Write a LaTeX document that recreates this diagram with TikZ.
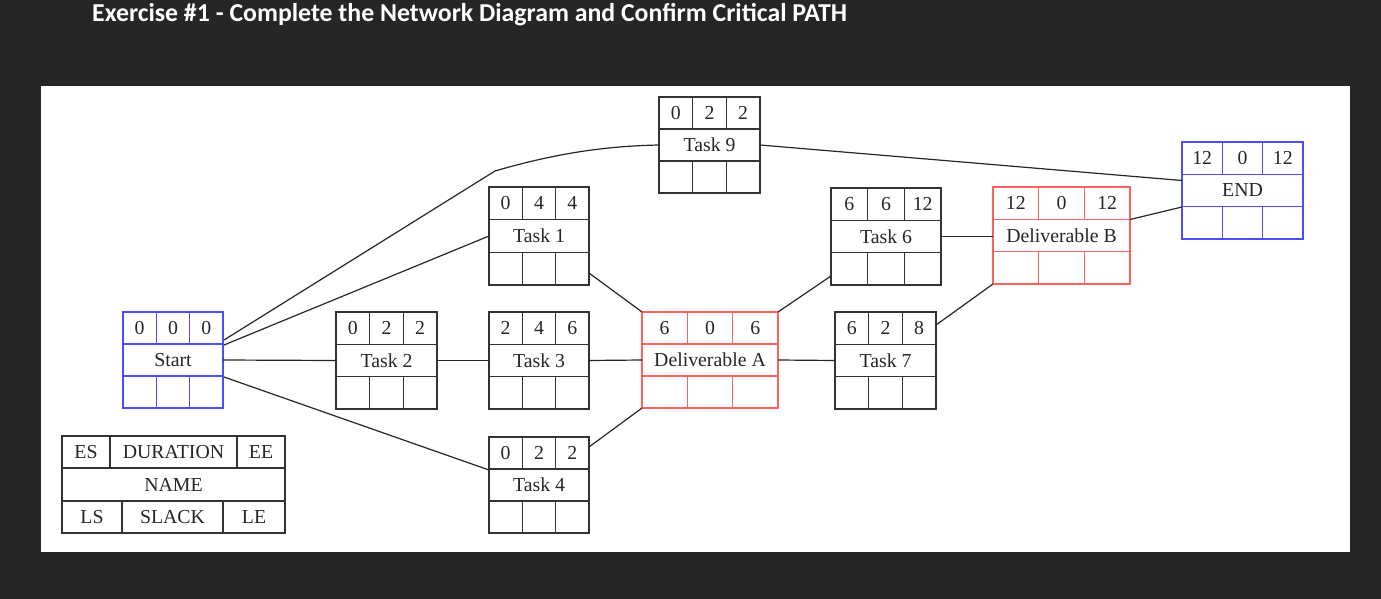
\documentclass[tikz,border=0pt]{standalone}
\usepackage{fontspec}
\setmainfont{Liberation Serif}
\newfontfamily\titlefont{Carlito}
\usetikzlibrary{calc}
\definecolor{bg}{HTML}{262626}
\definecolor{ink}{HTML}{262626}
\definecolor{bluebox}{HTML}{4D4DFF}
\definecolor{redbox}{HTML}{FF6060}
\definecolor{greybox}{HTML}{333333}
\tikzset{
  boxline/.style={line width=1.5pt},
  txt/.style={font=\fontsize{19.8}{21}\selectfont, text=ink, inner sep=0pt},
  conn/.style={draw=ink, line width=1.2pt},
}
\newcommand\geom[4]{\def\gxa{#1}\def\gya{#2}\def\gxb{#3}\def\gyb{#4}}
% #1 name, #2 colour, #3 es, #4 duration, #5 ee, #6 label
\newcommand\tbox[6]{%
  \pgfmathsetmacro\ca{\gxa+(\gxb-\gxa)/3}%
  \pgfmathsetmacro\cb{\gxa+2*(\gxb-\gxa)/3}%
  \pgfmathsetmacro\ra{\gya+(\gyb-\gya)/3}%
  \pgfmathsetmacro\rb{\gya+2*(\gyb-\gya)/3}%
  \node[draw=#2, boxline, minimum width={(\gxb-\gxa)*1pt}, minimum height={(\gyb-\gya)*1pt}, inner sep=0pt, outer sep=0pt] (#1) at ({(\gxa+\gxb)/2},{(\gya+\gyb)/2}) {};
  \draw[draw=#2, boxline] (\gxa,\ra) -- (\gxb,\ra) (\gxa,\rb) -- (\gxb,\rb)
    (\ca,\gya) -- (\ca,\ra) (\cb,\gya) -- (\cb,\ra)
    (\ca,\rb) -- (\ca,\gyb) (\cb,\rb) -- (\cb,\gyb);
  \node[txt] (#1-es) at ({(\gxa+\ca)/2},{(\gya+\ra)/2}) {#3};
  \node[txt] (#1-du) at ({(\ca+\cb)/2},{(\gya+\ra)/2}) {#4};
  \node[txt] (#1-ee) at ({(\cb+\gxb)/2},{(\gya+\ra)/2}) {#5};
  \node[txt] (#1-nm) at ({(\gxa+\gxb)/2},{(\ra+\rb)/2}) {#6};
}
\begin{document}
\begin{tikzpicture}[x=1pt,y=-1pt]
\fill[bg] (0,0) rectangle (1381,599);
\useasboundingbox (0,0) rectangle (1381,599);
\fill[white] (41,86) rectangle (1350,552);
\node[anchor=west, text=white, inner sep=0pt, font=\titlefont\bfseries\fontsize{25.8}{28}\selectfont] (title) at (92,14.5) {Exercise \#1 - Complete the Network Diagram and Confirm Critical PATH};

\geom{123}{312}{223}{408}\tbox{start}{bluebox}{0}{0}{0}{Start}
\geom{336}{312}{437}{409}\tbox{t2}{greybox}{0}{2}{2}{Task 2}
\geom{489}{312}{589}{409}\tbox{t3}{greybox}{2}{4}{6}{Task 3}
\geom{489}{187}{589}{285}\tbox{t1}{greybox}{0}{4}{4}{Task 1}
\geom{489}{437}{589}{533}\tbox{t4}{greybox}{0}{2}{2}{Task 4}
\geom{659}{97}{760}{193}\tbox{t9}{greybox}{0}{2}{2}{Task 9}
\geom{642}{312}{778}{408}\tbox{da}{redbox}{6}{0}{6}{Deliverable A}
\geom{831}{188}{941}{285}\tbox{t6}{greybox}{6}{6}{12}{Task 6}
\geom{835}{312}{936}{409}\tbox{t7}{greybox}{6}{2}{8}{Task 7}
\geom{993}{187}{1130}{284}\tbox{db}{redbox}{12}{0}{12}{Deliverable B}
\geom{1182}{142}{1303}{239}\tbox{end}{bluebox}{12}{0}{12}{END}

% legend
\node[draw=greybox, boxline, minimum width=223pt, minimum height=97pt, inner sep=0pt, outer sep=0pt] (leg) at (173.5,484.5) {};
\draw[draw=greybox, boxline] (62,468) -- (285,468) (62,501) -- (285,501)
  (110,436) -- (110,468) (237,436) -- (237,468)
  (122,501) -- (122,533) (223,501) -- (223,533);
\node[txt] (leg-es) at (86,452) {ES};
\node[txt] (leg-du) at (173.5,452) {DURATION};
\node[txt] (leg-ee) at (261,452) {EE};
\node[txt] (leg-nm) at (173.5,484.5) {NAME};
\node[txt] (leg-ls) at (92,517) {LS};
\node[txt] (leg-sl) at (172.5,517) {SLACK};
\node[txt] (leg-le) at (254,517) {LE};

% connectors
\coordinate (k9) at (495,171);
\draw[conn] ($(start.north east)+(1,28)$) -- (k9) .. controls (560,152) and (610,146) .. (t9.west);
\draw[conn] ($(start.north east)+(1,33)$) -- (t1.west);
\draw[conn] (start.east) -- (t2.west);
\draw[conn] ($(start.south east)+(1,-31)$) -- ($(t4.west)+(0,-15)$);
\draw[conn] (t2.east) -- (t3.west);
\draw[conn] (t3.east) -- (da.west);
\draw[conn] ($(t1.south east)+(0,-12)$) -- (da.north west);
\draw[conn] ($(t4.north east)+(0,10)$) -- (da.south west);
\draw[conn] (da.north east) -- ($(t6.south west)+(0,-9)$);
\draw[conn] (da.east) -- (t7.west);
\draw[conn] (t6.east) -- (t6.east -| db.west);
\draw[conn] ($(t7.north east)+(0,13)$) -- (db.south west);
\draw[conn] ($(db.east)+(0,-16)$) -- ($(end.west)+(0,16.5)$);
\draw[conn] (t9.east) -- ($(end.west)+(0,-10)$);
\end{tikzpicture}
\end{document}
